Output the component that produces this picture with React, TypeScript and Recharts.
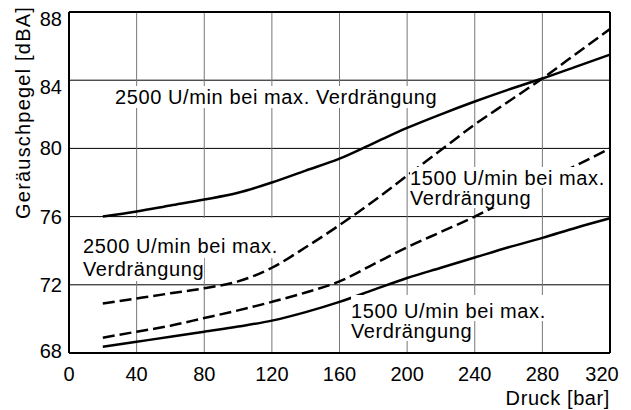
import { LineChart, Line, XAxis, YAxis, CartesianGrid, ReferenceLine, Label } from "recharts"

const FONT = "'Liberation Sans', Arial, Helvetica, sans-serif"

// pressure in bar, noise level in dBA
const pressure = [20, 40, 60, 80, 100, 120, 140, 160, 180, 200, 220, 240, 260, 280, 300, 320]
const solid2500 = [76.0, 76.3, 76.65, 77.0, 77.4, 78.0, 78.7, 79.4, 80.3, 81.2, 82.0, 82.75, 83.45, 84.1, 84.8, 85.5]
const dashed2500 = [70.9, 71.2, 71.5, 71.8, 72.2, 73.0, 74.2, 75.5, 76.9, 78.4, 79.9, 81.4, 82.75, 84.1, 85.55, 87.0]
const dashed1500 = [68.9, 69.25, 69.6, 70.05, 70.5, 71.0, 71.55, 72.2, 73.2, 74.2, 75.1, 76.0, 77.0, 78.0, 79.0, 80.0]
const solid1500 = [68.37, 68.66, 68.95, 69.25, 69.55, 69.9, 70.4, 71.0, 71.7, 72.4, 73.0, 73.6, 74.2, 74.75, 75.35, 75.9]

const xTicks = [0, 40, 80, 120, 160, 200, 240, 280, 320]
const yTicks = [68, 72, 76, 80, 84, 88]

const data = pressure.map((p, i) => ({
  p,
  s2500: solid2500[i],
  d2500: dashed2500[i],
  d1500: dashed1500[i],
  s1500: solid1500[i],
}))

// curve captions, drawn on white so they hide grid and lines behind them
const captions = [
  { lines: ["2500 U/min bei max. Verdrängung"], left: 115, top: 86, lh: 22, pt: 0 },
  { lines: ["2500 U/min bei max.", "Verdrängung"], left: 83, top: 218, lh: 23, pt: 17 },
  { lines: ["1500 U/min bei max.", "Verdrängung"], left: 410, top: 167, lh: 20, pt: 1 },
  { lines: ["1500 U/min bei max.", "Verdrängung"], left: 351, top: 295, lh: 20, pt: 6 },
]

const yTickShift: Record<number, number> = { 88: 7, 84: 7, 68: -2 }
const xTickShift: Record<number, number> = { 320: -8 }

function YTick({ x, y, payload }: any) {
  return (
    <text x={x + 1} y={y + (yTickShift[payload.value] ?? 0)} dy={7} textAnchor="end"
      fontSize={20} fontFamily={FONT} fill="#000">
      {payload.value}
    </text>
  )
}

function XTick({ x, y, payload }: any) {
  return (
    <text x={x + (xTickShift[payload.value] ?? 0)} y={y} dy={20} textAnchor="middle"
      fontSize={20} fontFamily={FONT} fill="#000">
      {payload.value}
    </text>
  )
}

export default function App() {
  return (
    <div style={{ position: "absolute", left: 0, top: 0, width: 631, height: 410, background: "#fff" }}>
      <LineChart width={631} height={410} data={data} margin={{ top: 12, right: 21, bottom: 27, left: 19 }}>
        <CartesianGrid vertical={false} stroke="#000" strokeWidth={1} />
        <CartesianGrid horizontal={false} stroke="#777" strokeWidth={1} />
        <XAxis type="number" dataKey="p" domain={[0, 320]} ticks={xTicks} height={30}
          tickLine={false} axisLine={{ stroke: "#000", strokeWidth: 2 }} tick={<XTick />}>
          <Label content={() => (
            <text x={610} y={405} textAnchor="end" fontSize={20} fontFamily={FONT}
              letterSpacing={0.6} fill="#000">Druck [bar]</text>
          )} />
        </XAxis>
        <YAxis type="number" domain={[68, 88]} ticks={yTicks} width={50}
          tickLine={false} axisLine={{ stroke: "#000", strokeWidth: 2 }} tick={<YTick />}>
          <Label content={() => (
            <text x={29.5} y={112.5} transform="rotate(-90 29.5 112.5)" textAnchor="middle"
              fontSize={20} fontFamily={FONT} letterSpacing={1.2} fill="#000">Geräuschpegel [dBA]</text>
          )} />
        </YAxis>
        <ReferenceLine y={88} stroke="#000" strokeWidth={2} />
        <ReferenceLine x={320} stroke="#000" strokeWidth={2} />
        <Line type="monotone" dataKey="s2500" stroke="#000" strokeWidth={2.5} dot={false} isAnimationActive={false} />
        <Line type="monotone" dataKey="d2500" stroke="#000" strokeWidth={2.5} strokeDasharray="12 5" dot={false} isAnimationActive={false} />
        <Line type="monotone" dataKey="d1500" stroke="#000" strokeWidth={2.5} strokeDasharray="12 5" dot={false} isAnimationActive={false} />
        <Line type="monotone" dataKey="s1500" stroke="#000" strokeWidth={2.5} dot={false} isAnimationActive={false} />
      </LineChart>
      {captions.map((c, k) => (
        <div key={k} style={{ position: "absolute", left: c.left, top: c.top, fontFamily: FONT,
          fontSize: 20, letterSpacing: 0.6, color: "#000" }}>
          {c.lines.map((t, i) => (
            <div key={i} style={{ background: "#fff", width: "fit-content", whiteSpace: "nowrap",
              lineHeight: c.lh + "px", paddingTop: i === 0 ? c.pt : 0 }}>
              {t}
            </div>
          ))}
        </div>
      ))}
    </div>
  )
}
